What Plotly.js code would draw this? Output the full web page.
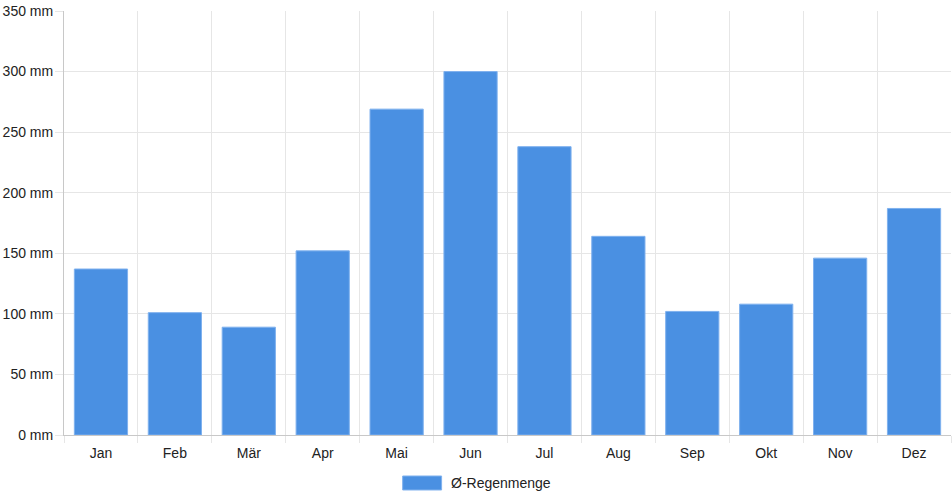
<!DOCTYPE html>
<html>
<head>
<meta charset="utf-8">
<script src="https://cdn.plot.ly/plotly-3.0.1.min.js"></script>
<style>
  html, body { margin: 0; padding: 0; background: #fff; }
  #chart { width: 952px; height: 500px; }
</style>
</head>
<body>
<div id="chart"></div>
<script>
// Monatliche Regenmenge
const months = ['Jan', 'Feb', 'Mär', 'Apr', 'Mai', 'Jun', 'Jul', 'Aug', 'Sep', 'Okt', 'Nov', 'Dez']
const rainfall = [137, 101, 89, 152, 269, 300, 238, 164, 102, 108, 146, 187]
const seriesName = 'Ø-Regenmenge'
const barColor = '#4a90e2'

const trace = {
    x: months,
    y: rainfall,
    name: seriesName,
    type: 'bar',
    width: 0.72,
    marker: {
        color: barColor,
        line: { color: '#7fb1ee', width: 1 }
    },
    hovertemplate: '%{x}: %{y} mm<extra></extra>'
}

const layout = {
    width: 952,
    height: 500,
    margin: { l: 64, r: 1, t: 11, b: 65 },
    paper_bgcolor: '#fff',
    plot_bgcolor: '#fff',
    font: { family: 'Liberation Sans, Arial, sans-serif', size: 14, color: '#222' },
    showlegend: false,
    xaxis: {
        type: 'category',
        tickson: 'boundaries',
        showgrid: true,
        gridcolor: '#e6e6e6',
        ticks: 'outside',
        ticklen: 7,
        tickcolor: '#e6e6e6',
        ticklabelstandoff: 5,
        showline: true,
        linecolor: '#c8c8c8',
        zeroline: false,
        automargin: false,
        fixedrange: true
    },
    yaxis: {
        range: [0, 350],
        dtick: 50,
        ticksuffix: ' mm',
        showgrid: true,
        gridcolor: '#e6e6e6',
        ticks: 'outside',
        ticklen: 8,
        tickcolor: '#e6e6e6',
        ticklabelstandoff: -1,
        showline: true,
        linecolor: '#c8c8c8',
        zeroline: false,
        automargin: false,
        fixedrange: true
    },
    // legend drawn by hand so the colour box can be wide like the original
    shapes: [{
        type: 'rect', xref: 'paper', yref: 'paper',
        x0: 0.3818, x1: 0.4257, y0: -0.0967, y1: -0.1297,
        fillcolor: barColor,
        line: { color: '#7fb1ee', width: 1 }
    }],
    annotations: [{
        xref: 'paper', yref: 'paper',
        x: 0.4336, y: -0.1132,
        xanchor: 'left', yanchor: 'middle',
        text: seriesName,
        showarrow: false,
        font: { size: 14, color: '#222' }
    }]
}

Plotly.newPlot('chart', [trace], layout, { displayModeBar: false, staticPlot: true })
</script>
</body>
</html>
